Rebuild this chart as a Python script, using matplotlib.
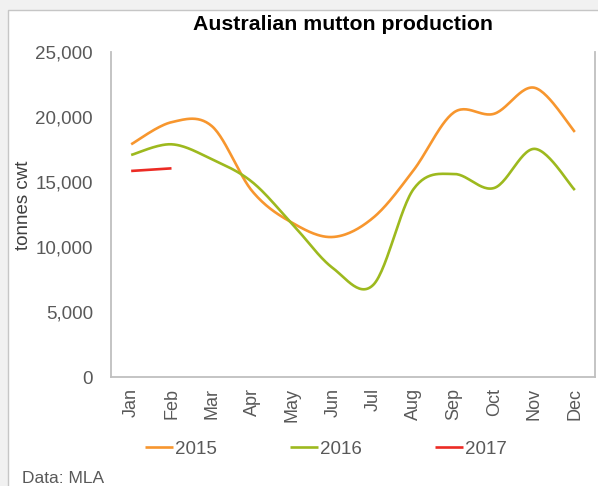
import numpy as np
import matplotlib
matplotlib.use("Agg")
import matplotlib.pyplot as plt
from matplotlib.patches import Rectangle

plt.rcParams['font.family'] = ['Liberation Sans', 'DejaVu Sans']

months = ["Jan", "Feb", "Mar", "Apr", "May", "Jun", "Jul", "Aug", "Sep", "Oct", "Nov", "Dec"]
prod_2015 = [17900, 19600, 19300, 14300, 11850, 10770, 12250, 15900, 20350, 20250, 22250, 18850]
prod_2016 = [17080, 17900, 16750, 15000, 11750, 8380, 7080, 14450, 15620, 14540, 17550, 14380]
prod_2017 = [15850, 16050]
years = ["2015", "2016", "2017"]
colors = ["#F7962E", "#9DB91E", "#EC2B24"]
yticks = [0, 5000, 10000, 15000, 20000, 25000]


def smooth(xs, ys, n=30):
    # Excel-style Bezier smoothing through the points
    xs = np.asarray(xs, float)
    ys = np.asarray(ys, float)
    P = np.column_stack([xs, ys])
    m = len(P)
    if m < 3:
        return xs, ys
    out = []
    t = np.linspace(0, 1, n)[:, None]
    for i in range(m - 1):
        p0 = P[i - 1] if i > 0 else P[i]
        p1 = P[i]
        p2 = P[i + 1]
        p3 = P[i + 2] if i + 2 < m else P[i + 1]
        c1 = p1 + (p2 - p0) / 6.0
        c2 = p2 - (p3 - p1) / 6.0
        seg = ((1 - t) ** 3) * p1 + 3 * ((1 - t) ** 2) * t * c1 + 3 * (1 - t) * t ** 2 * c2 + t ** 3 * p2
        out.append(seg if i == 0 else seg[1:])
    out = np.vstack(out)
    return out[:, 0], out[:, 1]


fig = plt.figure(figsize=(5.98, 4.86), dpi=100, facecolor="#f1f1f1")
panel = Rectangle((8 / 598, -0.01), 1.0, 1 - 10 / 486 + 0.01, transform=fig.transFigure,
                  facecolor="white", edgecolor="#c6c6c6", linewidth=1.0, zorder=-10)
fig.patches.append(panel)

ax = fig.add_axes([111 / 598, 1 - 377 / 486, (595 - 111) / 598, (377 - 52) / 486])
ax.set_zorder(5)
ax.set_facecolor("white")

x = np.arange(len(months))
for vals, lab, col in zip([prod_2015, prod_2016, prod_2017], years, colors):
    sx, sy = smooth(x[:len(vals)], vals)
    ax.plot(sx, sy, color=col, lw=1.9, label=lab, solid_capstyle='butt')

ax.set_xlim(-0.5, 11.5)
ax.set_ylim(0, 25000)
ax.set_yticks(yticks)
ax.set_yticklabels([f"{v:,}" for v in yticks])
ax.set_xticks(x)
ax.set_xticklabels(months, rotation=90)
ax.tick_params(axis='both', length=0, labelsize=13, labelcolor="#595959")
ax.tick_params(axis='y', labelsize=13.5, pad=13)
ax.tick_params(axis='x', pad=8)
for s in ["left", "bottom", "right"]:
    ax.spines[s].set_color("#bfbfbf")
    ax.spines[s].set_linewidth(1.3)
ax.spines["top"].set_visible(False)

fig.text(343 / 598, 1 - 25 / 486, "Australian mutton production", ha="center", va="center",
         fontsize=15.3, fontweight="bold", color="black")
fig.text(24 / 598, 1 - 205 / 486, "tonnes cwt", rotation=90, ha="center", va="center",
         fontsize=13.5, color="#404040")
fig.legend(loc="center", bbox_to_anchor=(326 / 598, 1 - 449 / 486), ncol=3, frameon=False,
           fontsize=13.5, handlelength=1.5, handletextpad=0.1, columnspacing=3.9,
           labelcolor="#595959")
fig.text(22 / 598, 1 - 478 / 486, "Data: MLA", ha="left", va="center", fontsize=12.5, color="#595959")

fig.savefig("out.png", dpi=100, facecolor=fig.get_facecolor())
